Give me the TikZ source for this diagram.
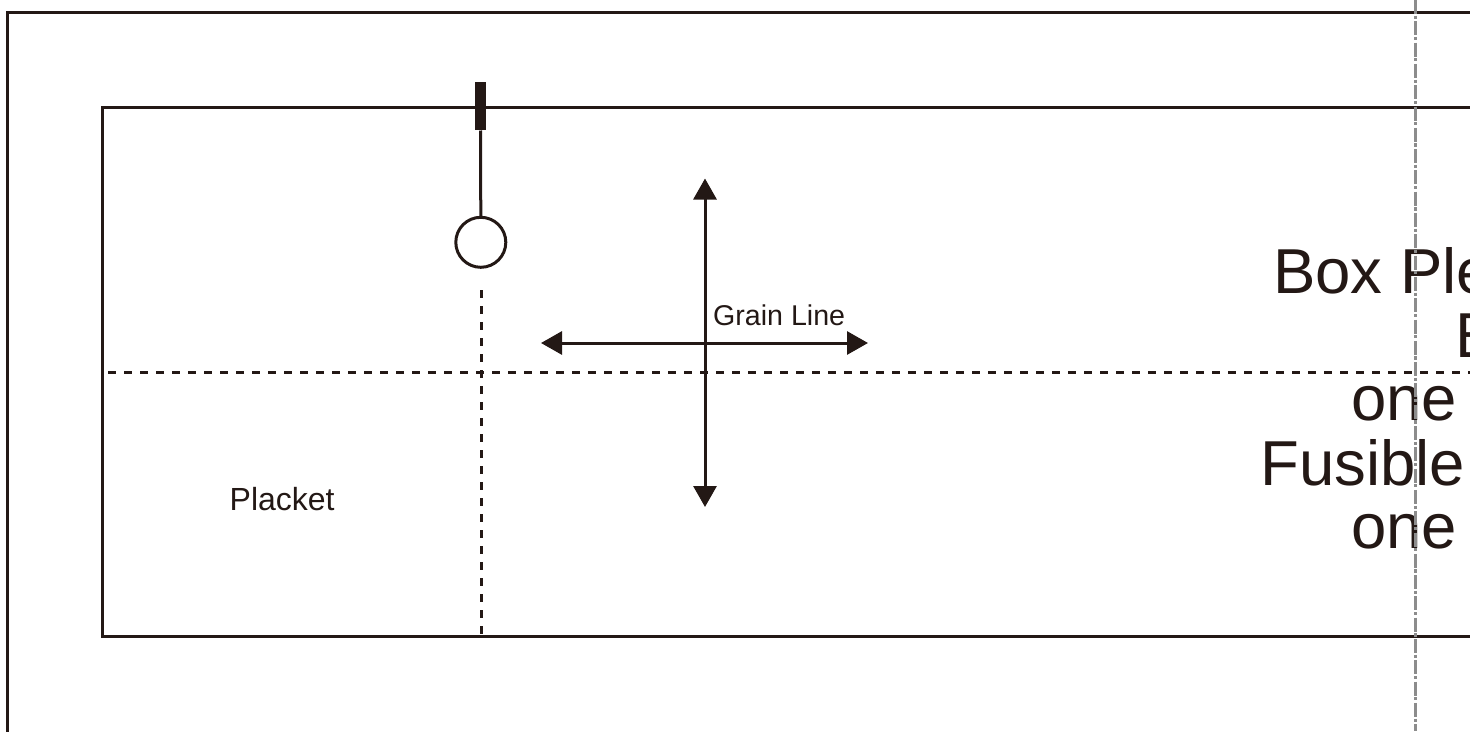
\documentclass[tikz,border=0pt]{standalone}
\usepackage{fontspec}
\setmainfont{Liberation Sans}
\usetikzlibrary{arrows.meta}
\definecolor{ink}{HTML}{231815}
\definecolor{foldgray}{HTML}{8C8C8C}
\tikzset{
  x=1pt,y=-1pt,
  outline/.style={draw=ink,line width=3pt},
  dashline/.style={draw=ink,line width=3pt,dash pattern=on 8pt off 8pt},
  foldline/.style={draw=foldgray,line width=3pt,dash pattern=on 14pt off 1.6pt on 3.2pt off 2.5pt},
  grain/.style={draw=ink,line width=3pt,{Triangle[length=21pt,width=23pt]}-{Triangle[length=21pt,width=23pt]}},
  smalltext/.style={text=ink,font=\fontsize{28.6}{28.6}\selectfont,anchor=base west,inner sep=0pt},
  plackettext/.style={text=ink,font=\fontsize{32}{32}\selectfont,anchor=base west,inner sep=0pt},
  bigtext/.style={text=ink,font=\fontsize{63.5}{63.5}\selectfont,anchor=base west,inner sep=0pt},
  holemark/.style={circle,draw=ink,line width=3pt,minimum size=50pt,inner sep=0pt},
  tickmark/.style={fill=ink,draw=none,minimum width=11pt,minimum height=48pt,inner sep=0pt}
}
\begin{document}
\begin{tikzpicture}
\useasboundingbox (0,0) rectangle (1470,731);
\clip (0,0) rectangle (1470,731);
\draw[outline] (1490,12) -- (7,12) -- (7,750);
\draw[outline] (1490,107) -- (102,107) -- (102,636) -- (1490,636);
\coordinate (dashtop) at (481,290);
\coordinate (dashbot) at (481,636);
\coordinate (foldl) at (108,372);
\coordinate (foldr) at (1490,372);
\coordinate (gt) at (705,178.5);
\coordinate (gb) at (705,507);
\coordinate (gl) at (541,343);
\coordinate (gr) at (868,343);
\coordinate (vt) at (1415,0);
\coordinate (vb) at (1415,731);
\node[bigtext] (t1) at (1273,293) {Box Ple};
\node[bigtext] (t2) at (1455,357) {E};
\node[bigtext] (t3) at (1351,420) {one};
\node[bigtext] (t4) at (1260,485) {Fusible};
\node[bigtext] (t5) at (1351,548.5) {one};
\draw[dashline] (foldl) -- (foldr);
\draw[dashline] (dashtop) -- (dashbot);
\draw[grain] (gt) -- (gb);
\draw[grain] (gl) -- (gr);
\node[tickmark] (tick) at (480.5,106.3) {};
\node[holemark] (hole) at (480.8,242.3) {};
\draw[outline] (tick.south) -- (hole.north);
\node[smalltext] (grainlabel) at (713,325) {Grain Line};
\node[plackettext] (placket) at (229.5,510.5) {Placket};
\draw[foldline] (vt) -- (vb);
\end{tikzpicture}
\end{document}
